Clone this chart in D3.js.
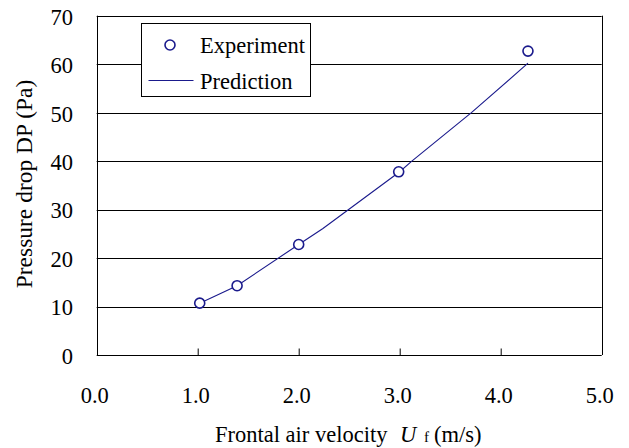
<!DOCTYPE html>
<html>
<head>
<meta charset="utf-8">
<script src="https://cdn.jsdelivr.net/npm/d3@7"></script>
<style>
  body { margin: 0; background: #fff; }
</style>
</head>
<body>
<div id="chart"></div>
<script>
// measured data
const expX = [1.02, 1.39, 2.0, 2.99, 4.27];
const expY = [10.7, 14.3, 22.8, 37.8, 62.7];
const predX = [1.02, 1.39, 2.0, 2.24, 3.0, 3.12, 3.71, 4.27];
const predY = [10.7, 14.3, 22.8, 26.1, 37.8, 40.0, 50.0, 60.2];
const xTicks = [0, 1, 2, 3, 4, 5];
const yTicks = [0, 10, 20, 30, 40, 50, 60, 70];

const width = 629, height = 448;
const navy = "#1a1a8c";
const serif = "'Liberation Serif'";
const fs = "22.5px";

const svg = d3.select("#chart")
    .append("svg")
    .attr("width", width)
    .attr("height", height);

const x = d3.scaleLinear().domain([0, 5]).range([96.7, 601.7]);
const y = d3.scaleLinear().domain([0, 70]).range([355, 15.7]);

// gridlines
svg.append("g")
    .selectAll("line")
    .data(yTicks.filter(d => d > 0))
    .join("line")
    .attr("x1", x(0))
    .attr("x2", x(5))
    .attr("y1", d => Math.round(y(d)) + 0.5)
    .attr("y2", d => Math.round(y(d)) + 0.5)
    .attr("stroke", "#000")
    .attr("stroke-width", 1);

// right border
svg.append("line")
    .attr("x1", Math.round(x(5)) + 0.5).attr("x2", Math.round(x(5)) + 0.5)
    .attr("y1", y(70)).attr("y2", y(0))
    .attr("stroke", "#000");

// x axis: ticks pointing inward, labels set well below
const xAxis = svg.append("g")
    .attr("transform", `translate(0, ${Math.round(y(0)) + 0.5})`)
    .call(d3.axisTop(x).tickValues(xTicks.slice(1, -1)).tickSize(7).tickFormat(""));
xAxis.select(".domain").attr("d", `M${x(0)},0H${x(5)}`).attr("stroke", "#000");
xAxis.selectAll(".tick line").attr("stroke", "#000");

// y axis line
svg.append("line")
    .attr("x1", Math.round(x(0)) + 0.5).attr("x2", Math.round(x(0)) + 0.5)
    .attr("y1", y(70)).attr("y2", y(0) + 0.5)
    .attr("stroke", "#000");

// x tick labels
svg.append("g")
    .selectAll("text")
    .data(xTicks)
    .join("text")
    .attr("x", d => x(d) - 2)
    .attr("y", 403)
    .attr("text-anchor", "middle")
    .style("font-family", serif)
    .style("font-size", fs)
    .text(d => d3.format(".1f")(d));

// y tick labels
svg.append("g")
    .selectAll("text")
    .data(yTicks)
    .join("text")
    .attr("x", 73)
    .attr("y", d => y(d) + 1)
    .attr("text-anchor", "end")
    .attr("dy", "0.35em")
    .style("font-family", serif)
    .style("font-size", fs)
    .text(d => d);

// axis titles
svg.append("text")
    .attr("transform", "translate(32, 184) rotate(-90)")
    .attr("text-anchor", "middle")
    .style("font-family", serif)
    .style("font-size", "23.5px")
    .text("Pressure drop DP (Pa)");

const xTitle = svg.append("text")
    .attr("y", 442)
    .style("font-family", serif)
    .style("font-size", fs);
xTitle.append("tspan").attr("x", 215).text("Frontal air velocity");
xTitle.append("tspan").attr("x", 400).style("font-style", "italic").text("U");
xTitle.append("tspan").attr("x", 424).style("font-size", "15px").text("f");
xTitle.append("tspan").attr("x", 434).text("(m/s)");

// prediction line
const pred = predX.map((d, i) => ({ x: d, y: predY[i] }));
svg.append("path")
    .datum(pred)
    .attr("fill", "none")
    .attr("stroke", navy)
    .attr("stroke-width", 1.1)
    .attr("d", d3.line().x(d => x(d.x)).y(d => y(d.y)));

// experiment points
const exp = expX.map((d, i) => ({ x: d, y: expY[i] }));
svg.append("g")
    .selectAll("circle")
    .data(exp)
    .join("circle")
    .attr("cx", d => x(d.x))
    .attr("cy", d => y(d.y))
    .attr("r", 5)
    .attr("fill", "#fff")
    .attr("stroke", navy)
    .attr("stroke-width", 1.6);

// legend
const legend = svg.append("g").attr("transform", "translate(141.5, 23.5)");
legend.append("rect")
    .attr("width", 169)
    .attr("height", 73)
    .attr("fill", "#fff")
    .attr("stroke", "#000");
legend.append("circle")
    .attr("cx", 28.5).attr("cy", 21.5).attr("r", 5)
    .attr("fill", "#fff").attr("stroke", navy).attr("stroke-width", 1.6);
legend.append("line")
    .attr("x1", 7).attr("x2", 52).attr("y1", 57).attr("y2", 57)
    .attr("stroke", navy).attr("stroke-width", 1.1);
legend.selectAll("text.leg")
    .data(["Experiment", "Prediction"])
    .join("text")
    .attr("class", "leg")
    .attr("x", 58.5)
    .attr("y", (d, i) => 29.5 + i * 36)
    .style("font-family", serif)
    .style("font-size", fs)
    .text(d => d);
</script>
</body>
</html>
